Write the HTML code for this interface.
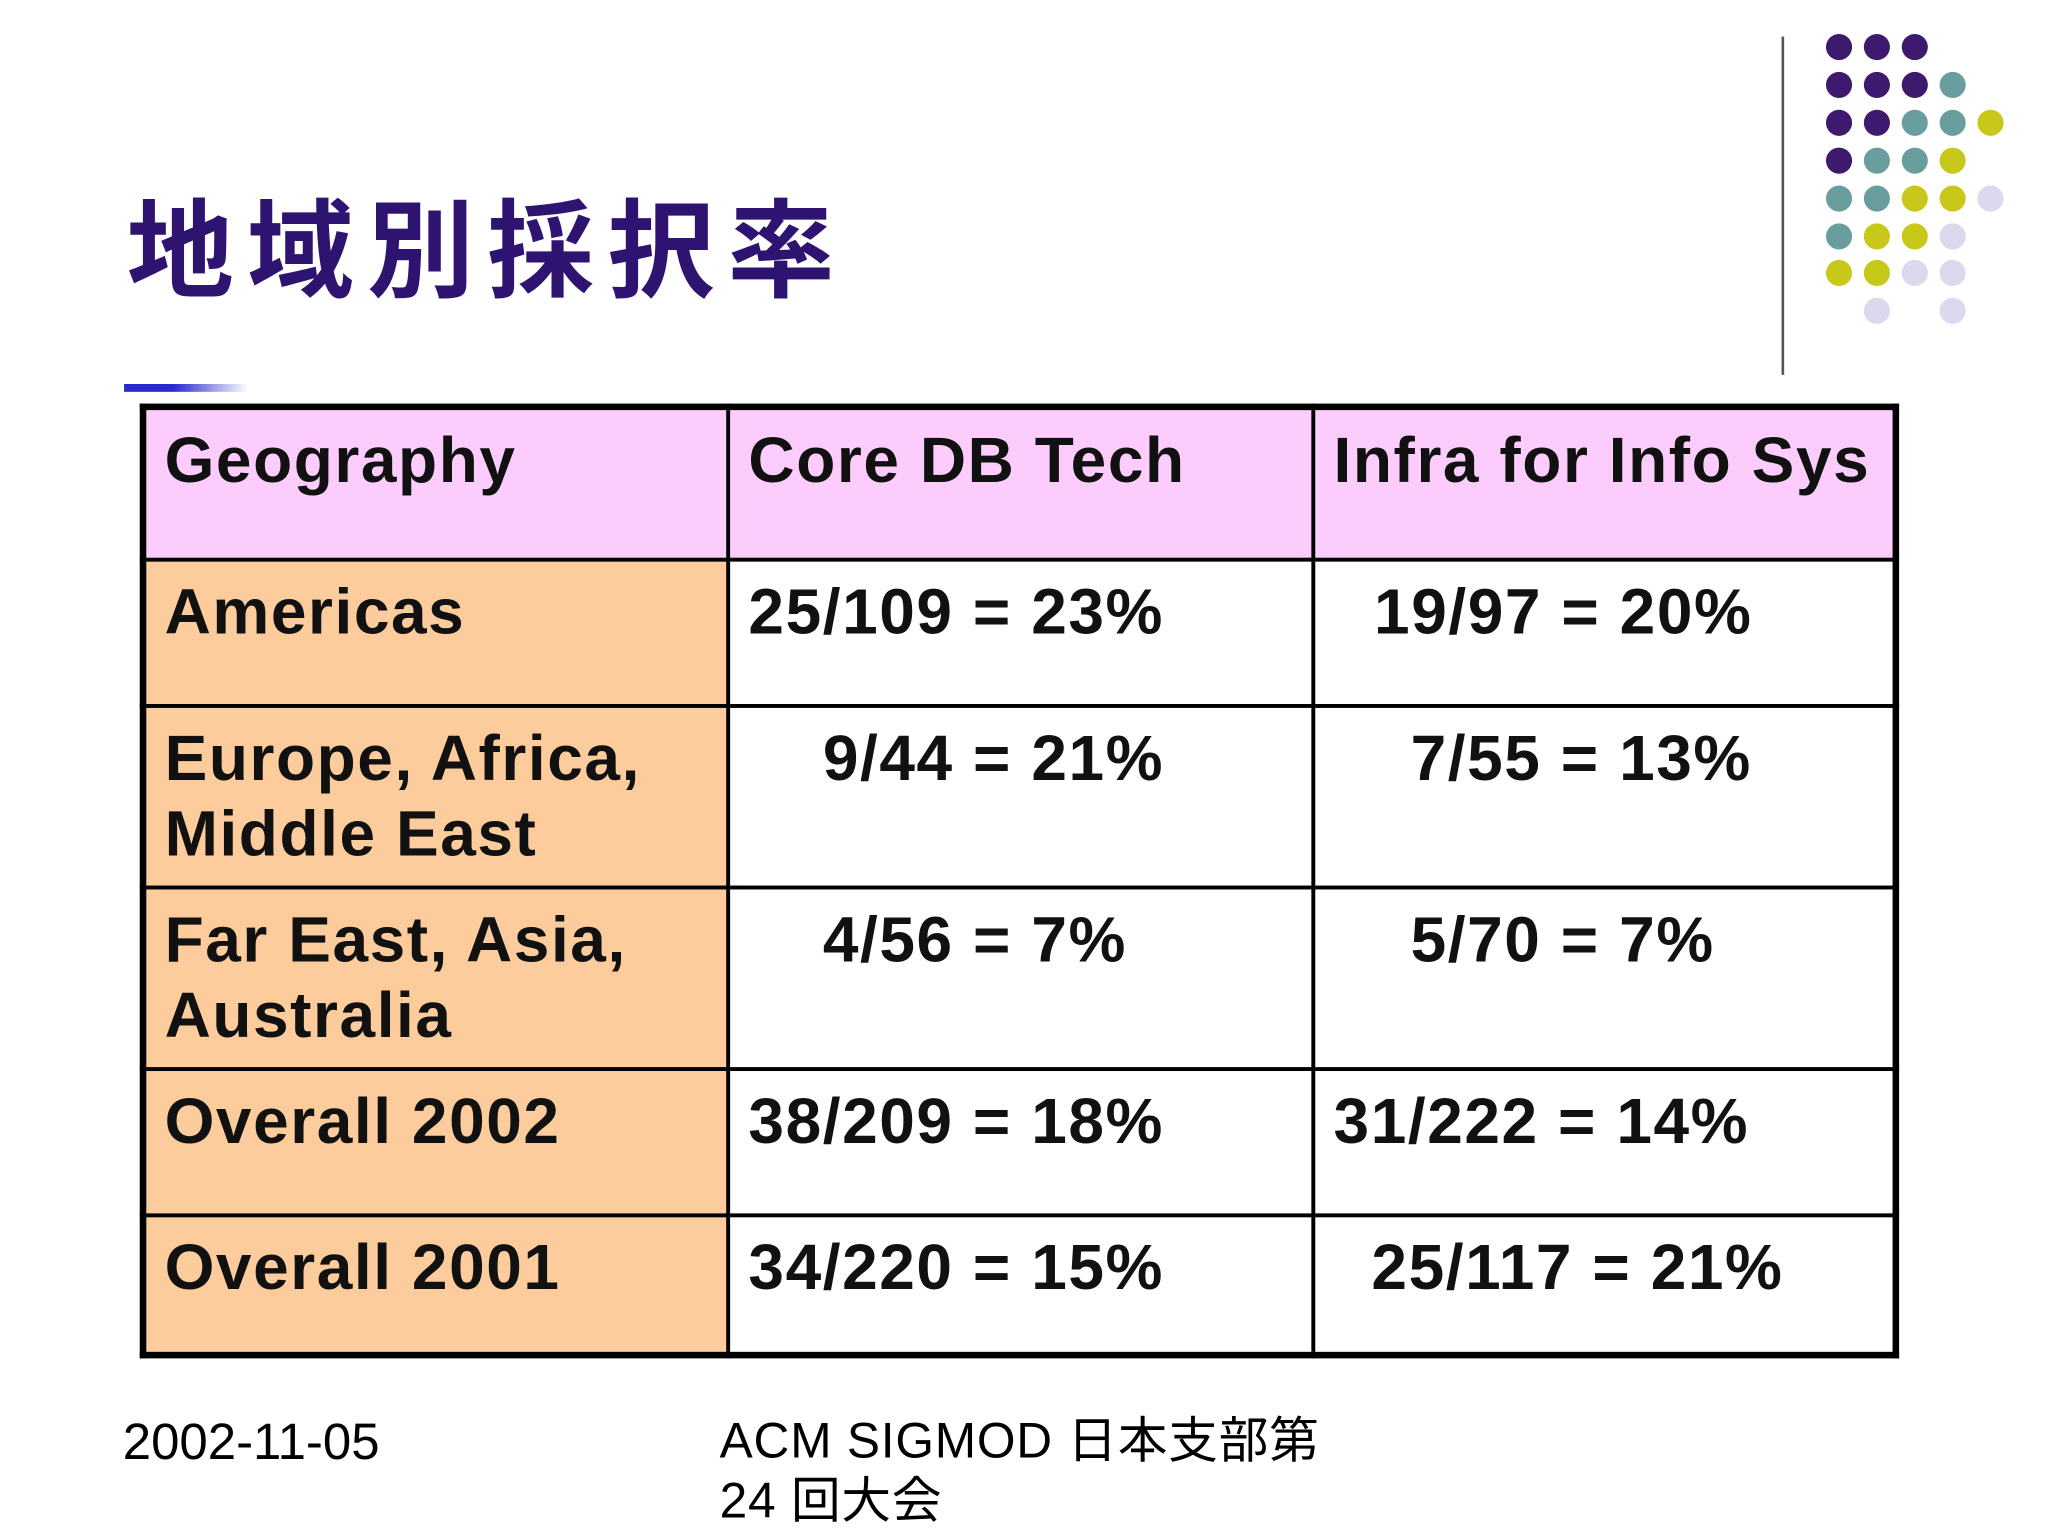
<!DOCTYPE html>
<html><head><meta charset="utf-8"><style>
html,body{margin:0;padding:0;background:#fff;width:2048px;height:1536px;overflow:hidden}
#stage{position:absolute;left:0;top:0;width:1568px;height:1176px;transform:scale(1.306122);transform-origin:0 0;font-family:"Liberation Sans","Noto Sans CJK JP",sans-serif}
.a{position:absolute}
.dot{position:absolute;width:20px;height:20px;border-radius:50%}
table{position:absolute;left:107px;top:309px;width:1347px;height:731px;border-collapse:collapse;border:5px solid #000;table-layout:fixed}
td{border:3px solid #000;vertical-align:top;font-weight:bold;font-size:49px;letter-spacing:1.2px;line-height:58px;padding:10px 0 0 14px;color:#111;white-space:nowrap}
td.h{background:#fccdfc}
td.g{background:#fccc9c}
</style></head><body>
<div id="stage">
<div class="a" style="left:97px;top:138px;font-size:82px;font-weight:bold;color:#2e1470;font-family:'Noto Sans CJK JP',sans-serif;letter-spacing:10px;line-height:96px">地域別採択率</div>
<div class="a" style="left:95px;top:294px;width:95px;height:6px;background:linear-gradient(to right,#2a2ad0 40%,#fff)"></div>
<div class="a" style="left:1364px;top:28px;width:2px;height:259px;background:#555"></div>
<div id="dots"></div>
<table>
<colgroup><col style="width:448px"><col style="width:448px"><col></colgroup>
<tr style="height:117px"><td class="h">Geography</td><td class="h">Core DB Tech</td><td class="h">Infra for Info Sys</td></tr>
<tr style="height:112px"><td class="g">Americas</td><td>25/109 = 23%</td><td style="padding-left:45px">19/97 = 20%</td></tr>
<tr style="height:139px"><td class="g">Europe, Africa,<br>Middle East</td><td style="padding-left:71px">9/44 = 21%</td><td style="padding-left:73px">7/55 = 13%</td></tr>
<tr style="height:139px"><td class="g">Far East, Asia,<br>Australia</td><td style="padding-left:71px">4/56 = 7%</td><td style="padding-left:73px">5/70 = 7%</td></tr>
<tr style="height:112px"><td class="g">Overall 2002</td><td>38/209 = 18%</td><td>31/222 = 14%</td></tr>
<tr><td class="g">Overall 2001</td><td>34/220 = 15%</td><td style="padding-left:43px">25/117 = 21%</td></tr>
</table>
<div class="a" style="left:94px;top:1083px;font-size:39px">2002-11-05</div>
<div class="a" style="left:551px;top:1081px;font-size:38px;line-height:46px;letter-spacing:0.6px">ACM SIGMOD 日本支部第<br>24 回大会</div>
</div>
<script>
const P='#3d1a6e',T='#6a9e9e',Y='#c8c81a',L='#dcd8ee';
const rows=[[P,P,P],[P,P,P,T],[P,P,T,T,Y],[P,T,T,Y],[T,T,Y,Y,L],[T,Y,Y,L],[Y,Y,L,L],[null,L,null,L]];
const d=document.getElementById('dots');
rows.forEach((r,i)=>r.forEach((c,j)=>{if(!c)return;const e=document.createElement('div');e.className='dot';


e.style.left=(1398+j*29)+'px';e.style.top=(26+i*28.9)+'px';e.style.background=c;d.appendChild(e);}));
</script>
</body></html>
